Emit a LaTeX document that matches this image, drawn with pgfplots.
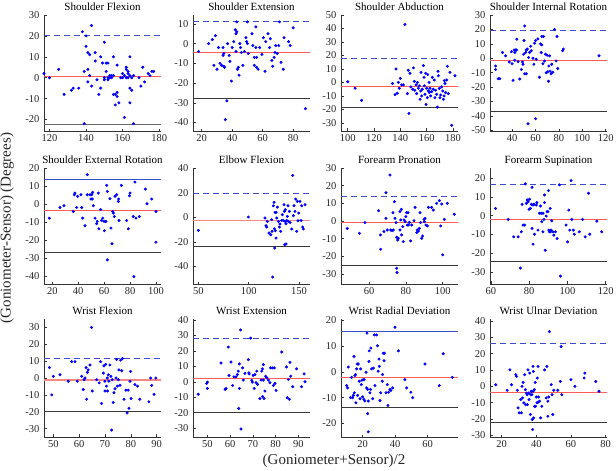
\documentclass[border=0pt]{standalone}
\usepackage{pgfplots}
\pgfplotsset{compat=1.18}
\usepackage{fontspec}
\setmainfont{Liberation Serif}
\definecolor{upc}{RGB}{60,75,200}
\definecolor{lowc}{RGB}{55,55,55}
\definecolor{meanc}{RGB}{255,90,90}
\definecolor{meanthick}{RGB}{245,135,135}
\pgfplotsset{
 ba/.style={scale only axis, width=117pt, height=116pt, anchor=north west,
  axis x line*=bottom, axis y line*=left, tick align=inside, major tick length=2.5pt,
  axis line style={black!80, line width=0.6pt}, tick style={black!80, line width=0.5pt},
  ticklabel style={font=\fontsize{10.5}{12}\selectfont, text=black!85},
  /pgf/number format/assume math mode=true,
  every axis title/.style={at={(0.5,1)}, anchor=base, yshift=5pt, font=\fontsize{11}{13}\selectfont},
  yticklabel style={xshift=-1pt}, clip=true},
 pts/.style={only marks, mark=*, mark size=1.3pt, color=blue, mark options={fill=blue, draw=blue}},
 upd/.style={upc, line width=0.7pt, dash pattern=on 6pt off 4pt},
 ups/.style={upc, line width=0.7pt},
 lowl/.style={lowc, line width=0.7pt},
 meanl/.style={meanc, line width=0.8pt},
}
\begin{document}
\begin{tikzpicture}
% Row 1
\begin{axis}[ba, at={(44pt,-15pt)}, title={Shoulder Flexion}, xmin=117, xmax=181, ymin=-25.5, ymax=30, xtick={120,140,160,180}, ytick={-20,-10,0,10,20,30}]
\addplot[meanl] coordinates {(117,0.5)(181,0.5)};
\addplot[upd] coordinates {(117,20.5)(181,20.5)};
\addplot[gray!80!black, line width=1.3pt] coordinates {(117,-22.5)(181,-22.5)};
\addplot[pts] coordinates {(117,2)(120,0)(125,4)(128,-8)(132,-6)(133,-5)(136,-5)(138,22)(139,3)(140,20)(140,15)(141,12)(141,4)(141,-2)(142,11)(142,1)(143,-4)(143,25)(145,8)(145,12)(146,-1)(147,-8)(148,10)(148,-5)(149,7)(150,-1)(150,17)(150,0)(151,3)(151,7)(152,0)(152,7)(152,-1)(153,1)(153,0)(154,1)(154,0)(155,1)(155,-8)(155,10)(156,-8)(157,-7)(157,-9)(156,-13)(157,6)(158,-12)(159,0)(160,2)(160,0)(161,1)(161,-19)(162,0)(162,4)(162,5)(163,3)(163,0)(163,2)(164,10)(164,1)(164,-5)(164,-12)(165,0)(165,-6)(166,-22)(166,1)(169,0)(170,-4)(171,5)(172,-2)(174,2)(175,1)(176,3)(177,3)(139,-22)};
\end{axis}
\begin{axis}[ba, at={(193pt,-15pt)}, title={Shoulder Extension}, xmin=14.3, xmax=91, ymin=-44.3, ymax=14.5, xtick={20,40,60,80}, ytick={-40,-30,-20,-10,0,10}]
\addplot[meanl] coordinates {(14.3,-4.6)(91,-4.6)};
\addplot[upd] coordinates {(14.3,11.4)(91,11.4)};
\addplot[lowl] coordinates {(14.3,-27.7)(91,-27.7)};
\addplot[pts] coordinates {(18,-4)(24.5,0)(27,2)(29,4)(28,-11)(30,-13)(31,-2)(32,-10)(33,-11)(34,-2)(34,-6)(34.5,-5)(34.5,-11.5)(35,-12)(35.5,-38.5)(36.5,-29)(37,0)(38,-6)(38.5,-9)(39.5,-19)(40,-2)(41,1)(42,7)(42.5,5)(42.5,-4)(43,6)(43,11)(43.5,-13)(44,-12)(44.5,-16)(45,0)(45.5,-2)(46,-4.5)(47,-11)(48,-4)(49,3)(49.5,1)(50,11)(50,0)(50.5,-5)(53,5)(53.5,-1)(54.5,-7)(54.5,-11)(55.5,8.5)(55.5,-2)(56,-7)(56,-12)(57,-13)(58,-2)(59.5,-5.5)(60.5,3)(61.5,-14)(62,1)(63.5,5)(64.5,-2)(65,2.5)(66,-8.5)(66.5,-11.5)(67.5,-7)(68,-4.5)(68.5,-1)(69.5,-5)(70.5,-1)(71,11)(72,-9.5)(73.5,-13)(74,3)(77,1)(78,-1)(80,8)(88,-33)};
\end{axis}
\begin{axis}[ba, at={(341pt,-15pt)}, title={Shoulder Abduction}, xmin=94.9, xmax=183.8, ymin=-36, ymax=50, xtick={100,120,140,160,180}, ytick={-30,-20,-10,0,10,20,30,40,50}]
\addplot[meanl] coordinates {(94.9,-2.75)(183.8,-2.75)};
\addplot[upd] coordinates {(94.9,17.5)(183.8,17.5)};
\addplot[lowl] coordinates {(94.9,-18.25)(183.8,-18.25)};
\addplot[pts] coordinates {(100,0.5)(105.6,-4.3)(110.6,-13.3)(134,-0.8)(136,-9)(136.7,10)(137.7,-8)(138.5,0)(139.2,-4.3)(140,3)(141,-1.8)(142.3,-1.8)(143.5,43)(145.3,-8.3)(146,9)(146.5,-23)(147.3,6.8)(148,-3.3)(149.4,-5)(150,10.8)(150.6,0.8)(151,-5.8)(152,-1.8)(152.4,-8.3)(153,0)(153.7,-4.3)(154.4,-2.5)(155,-12.5)(155.5,-6.3)(155.7,7.5)(156.2,-10)(156.7,-5)(157.5,12.5)(158,3.8)(158.2,-2.5)(158.7,-8.8)(159.2,6.8)(159.5,-16.3)(160,-4.3)(160.5,-11.3)(160.8,5.8)(161.3,-6.3)(161.8,0)(162,-7.5)(162.5,-4.3)(163,-10)(163.8,-6.8)(164.3,3.8)(165,-5)(165.8,1.8)(166.3,-11.3)(166.8,-5.8)(167.6,-8.8)(168.1,-18.3)(168.6,8.3)(168.9,5)(169.6,-4.5)(170.1,-11.3)(170.6,-9.3)(171.4,-3.3)(172.2,-6.3)(172.7,-12.5)(173.2,-10)(173.4,1.3)(173.9,-0.8)(174.4,-7.5)(175.2,1.8)(175.7,12)(176.5,-8.3)(177.7,7.5)(179,-31.8)(181.5,5)};
\end{axis}
\begin{axis}[ba, at={(490pt,-15pt)}, title={Shoulder Internal Rotation}, xmin=21.1, xmax=121.1, ymin=-50.5, ymax=30, xtick={40,60,80,100,120}, ytick={-50,-40,-30,-20,-10,0,10,20,30}]
\addplot[meanl] coordinates {(21.1,-1.4)(121.1,-1.4)};
\addplot[upd] coordinates {(21.1,19.3)(121.1,19.3)};
\addplot[lowl] coordinates {(21.1,-36.8)(121.1,-36.8)};
\addplot[pts] coordinates {(25.9,-5.4)(25.9,-7.8)(28.1,-14.2)(29.5,-14.2)(31.8,4)(34.4,1.7)(37.5,-2.6)(39.4,4.5)(40,-3.8)(40.8,-15.3)(41.7,5.7)(42.3,4)(42.3,-1.4)(43.1,5.7)(44,13.2)(43.7,5.7)(45.1,-2.4)(46.5,-14.4)(47.9,-7.8)(48.8,-2.6)(49.3,-4.2)(49.9,2.8)(50.2,12.3)(50.7,22.4)(50.7,-10.8)(51.6,4)(52.1,-10.8)(52.1,5.7)(53,6.4)(53.6,-45.5)(54.1,0.5)(54.9,4)(55.8,8.3)(56.4,5.2)(57.8,0)(58.6,-4.2)(59.2,10.4)(60.1,12.3)(60.1,-42)(60.6,-0.7)(62,13.4)(63.4,-13.2)(64.3,9.9)(64.9,4)(65.4,9.2)(65.4,15.1)(66.3,-3.8)(66.8,15.1)(67.7,-1.9)(68.5,2.8)(69.1,-10.1)(69.9,2.1)(70.5,-9.4)(71.1,-16)(71.4,-5.4)(72,1.7)(72.5,-9)(73.3,-10.8)(73.9,-4.2)(74.7,-9.7)(76.2,20)(77.6,-1.9)(78.4,15.1)(79,-7.1)(83.2,5.2)(83.8,6.4)(114.3,1.7)};
\end{axis}
% Row 2
\begin{axis}[ba, at={(44pt,-168pt)}, title={Shoulder External Rotation}, xmin=13.6, xmax=103.9, ymin=-44.3, ymax=20, xtick={20,40,60,80,100}, ytick={-40,-30,-20,-10,0,10,20}]
\addplot[meanl] coordinates {(13.6,-3.7)(103.9,-3.7)};
\addplot[ups] coordinates {(13.6,13.5)(103.9,13.5)};
\addplot[lowl] coordinates {(13.6,-26.9)(103.9,-26.9)};
\addplot[pts] coordinates {(17.7,-7.8)(25.9,-1.9)(29,-0.9)(36.2,-4.1)(37,5.2)(37.5,6.1)(38.8,-1.9)(39.6,4.3)(42.1,5.2)(42.7,-1.9)(43.4,-7.8)(45.2,-12)(47,16.3)(47,5.2)(49.1,5.2)(49.9,2.8)(50.4,5.2)(50.9,2.8)(51.1,6.5)(51.7,-0.9)(53,-7.8)(54.2,-10.9)(54.7,-9.6)(55.5,6.1)(56,-13.7)(57.3,-3.1)(58.1,-9.1)(58.9,-7.8)(59.9,-9.6)(60.2,-14.8)(60.7,-9.6)(61.4,-9.6)(62,10.4)(62.5,7)(62.5,-30.9)(64.5,3)(65.3,-13.3)(66.1,-22)(66.6,-4.1)(67.1,-5)(67.9,-6.9)(68.4,4.3)(69.7,5.2)(71,1.5)(71.2,2.8)(71.5,-9.1)(73.3,10.4)(77.4,-9.1)(78.7,-13.7)(79.5,4.6)(80,6.1)(82.5,-6.9)(83,-40.2)(83.8,12.2)(84.6,-7.8)(87.2,-6.9)(91.8,8.3)(93.1,0.2)(96.7,2.8)(100,-4.1)(100,-21.1)};
\end{axis}
\begin{axis}[ba, at={(193pt,-168pt)}, title={Elbow Flexion}, xmin=44.7, xmax=160.9, ymin=-54.5, ymax=40.4, xtick={50,100,150}, ytick={-40,-20,0,20,40}]
\addplot[meanthick, line width=1.8pt] coordinates {(44.7,-2.5)(160.9,-2.5)};
\addplot[upd] coordinates {(44.7,19.4)(160.9,19.4)};
\addplot[lowl] coordinates {(44.7,-23.7)(160.9,-23.7)};
\addplot[pts] coordinates {(50,-10.6)(99.7,0.3)(116.2,-0.5)(117.2,-6.8)(117.9,-7.9)(118.5,-3.3)(120.2,-12.8)(121.9,-14.2)(122.8,-1.9)(123.2,-11.4)(123.8,-48.8)(124.5,9.5)(125.2,12.3)(125.5,-9.3)(125.8,-25.1)(126.2,4.1)(126.5,-10.9)(127.2,-16.9)(127.2,4.1)(127.8,-0.5)(128.5,8.4)(129.5,-3.3)(130.5,-7.9)(131.1,-5.4)(131.8,-11.4)(132.8,-2.5)(133.4,2.2)(134.4,-2.5)(135.1,10.4)(135.4,4.9)(135.8,-22.3)(136.1,-3.3)(136.4,6.3)(137.1,-5.2)(137.1,-21.8)(137.7,-2.5)(138.4,0.8)(139,9.5)(139.4,-3.3)(140.4,4.9)(141.1,-4.1)(142.7,-9.5)(143.7,34.3)(144.4,1.4)(145,9.5)(146,4.9)(146.7,15)(147.7,-11.4)(148.3,13.1)(149,-2.7)(149.7,3.5)(151,13.1)(152,-2.5)(152.6,9.5)(153.6,-7.9)(154.3,-9.5)(156,10.4)};
\end{axis}
\begin{axis}[ba, at={(341pt,-168pt)}, title={Forearm Pronation}, xmin=44.8, xmax=108.3, ymin=-35.7, ymax=30, xtick={60,80,100}, ytick={-30,-20,-10,0,10,20,30}]
\addplot[meanc, line width=1.1pt] coordinates {(44.8,-1.1)(108.3,-1.1)};
\addplot[upd] coordinates {(44.8,14.2)(108.3,14.2)};
\addplot[lowl] coordinates {(44.8,-24.9)(108.3,-24.9)};
\addplot[pts] coordinates {(48.2,-4.3)(54.8,-7)(57.8,-0.9)(65.2,5.8)(66.2,-7.9)(66.3,-16)(68.1,-6)(69.2,16)(69.2,1.5)(69.9,-5.1)(71.4,26)(71.8,-5.1)(72.5,-5.5)(73,4.7)(73.2,-5.1)(73.8,10.9)(74.1,1.5)(74.7,-0.9)(75,-9.2)(75,-26.8)(75.2,-29.2)(75.6,-10.8)(75.9,-9.8)(76.8,-5.1)(76.8,5.3)(77.2,0.6)(77.6,6.6)(77.7,-7.9)(78.3,-3.2)(78.6,-11.7)(79,0.6)(79.6,-0.4)(80,2.5)(80.4,4.7)(80.8,-2.3)(81.2,4.7)(81.5,-2.3)(81.9,-0.8)(82.6,-11.3)(83.2,-2.3)(84.4,0.2)(85,7.7)(85.9,-6.6)(86.2,-5.1)(86.8,-5.7)(87.3,-4.2)(87.7,4.7)(88,-0.9)(88.6,-9.8)(89.1,-8.5)(89.9,0.9)(90,-0.4)(90.4,1.5)(90.9,-2.3)(91.7,-2.8)(92.2,7.7)(94,7.7)(94.9,6.2)(96.7,10)(98.2,11.5)(98.9,-2.8)(99.5,9.6)(100,-19.2)(100.9,0.9)(102.5,10)(106.3,3.8)};
\end{axis}
\begin{axis}[ba, at={(490pt,-168pt)}, title={Forearm Supination}, xmin=59.5, xmax=120.7, ymin=-36.5, ymax=25.5, xtick={60,80,100,120}, ytick={-30,-20,-10,0,10,20}]
\addplot[meanl] coordinates {(59.5,-2)(120.7,-2)};
\addplot[upd] coordinates {(59.5,16.8)(120.7,16.8)};
\addplot[lowl] coordinates {(59.5,-24.2)(120.7,-24.2)};
\addplot[pts] coordinates {(62.4,3.9)(69,-2)(71.9,-11.3)(74.2,-11.3)(75.4,-28)(75.9,-8.6)(76.3,6.1)(76.8,-5)(77.6,-5)(78,17)(78.5,6.6)(79,8.4)(79.4,7.5)(79.9,3.4)(80.2,8.8)(80.6,3.9)(81.1,6.1)(81.5,-6.8)(81.5,15.2)(82,-15.2)(82,5.7)(82.5,6.1)(82.8,-9.9)(83.7,5.7)(84,7)(84.6,-7.7)(85.4,1.3)(85.9,5.2)(86.3,1.3)(86.6,-3.2)(87.2,-8.6)(87.2,1.3)(87.7,-2)(88,11.1)(88,7)(88.4,-18.5)(88.9,-0.2)(89.4,2.2)(89.8,2.2)(90.1,13.4)(90.3,-7.7)(90.6,-8.6)(91,3.9)(91.1,-8.6)(91.5,-7.7)(91.8,-2.7)(92.4,-8.6)(92.9,-10.4)(93.7,-8.6)(94.6,-12.2)(95.8,16.5)(96.3,-32.3)(99.3,-5)(100.1,-14)(100.7,3)(101.2,-7.7)(101.9,18.8)(102.3,-2)(103.1,-7.7)(103.6,-9.9)(106.2,-8.6)(107.9,-2)(109.3,-11.3)(111,12)(111.7,-9.9)(115.4,-2.9)(117.9,-8.6)};
\end{axis}
% Row 3
\begin{axis}[ba, at={(44pt,-319pt)}, height=118pt, title={Wrist Flexion}, xmin=46.4, xmax=91.7, ymin=-35, ymax=35, xtick={50,60,70,80,90}, ytick={-30,-20,-10,0,10,20,30}]
\addplot[meanthick, line width=1.8pt] coordinates {(46.4,-1.2)(91.7,-1.2)};
\addplot[upd] coordinates {(46.4,11.6)(91.7,11.6)};
\addplot[lowl] coordinates {(46.4,-19.7)(91.7,-19.7)};
\addplot[pts] coordinates {(48.5,6.2)(49.4,-10)(50,1)(52.6,1.9)(55.8,-1.9)(57.1,9.7)(58.4,9.7)(59.3,-1.9)(61,1)(61.6,-6.8)(61.9,-1)(62.3,0)(62.7,6.2)(62.9,-12.6)(63.2,3.3)(63.5,4.8)(64.2,7.7)(64.8,30)(65.1,-7.7)(66.8,-1)(67.8,-2.9)(68.3,9.7)(68.7,-15.1)(69.4,2.9)(69.6,7.2)(70,-7.7)(70,-1.9)(70.3,8.1)(70.6,-4.8)(70.9,0)(71,-7.7)(71.3,1.9)(71.5,-1.9)(71.9,7.7)(72.3,1)(72.6,-30.9)(72.8,-1)(73.2,-14.5)(73.5,-8.7)(73.9,-6.4)(74.3,0)(74.5,11)(74.8,-4.8)(75.2,-1)(75.4,4.8)(75.8,-4.3)(76.1,10.6)(76.5,4.3)(76.8,11.6)(77.4,-12.6)(78.1,-7.2)(78.6,-20.7)(79,-7.2)(79.3,-18)(79.7,-1.9)(79.9,3.9)(80.1,-12.2)(81.6,-3.9)(82.6,-4.8)(83.5,-12.6)(87,-14.1)(87.7,0)(88.1,-4.4)(89,-9.7)(89.7,0)};
\end{axis}
\begin{axis}[ba, at={(193pt,-319pt)}, height=118pt, title={Wrist Extension}, xmin=43.7, xmax=95.1, ymin=-35.8, ymax=40.7, xtick={50,60,70,80,90}, ytick={-30,-20,-10,0,10,20,30,40}]
\addplot[meanl] coordinates {(43.7,2.1)(95.1,2.1)};
\addplot[upd] coordinates {(43.7,28.3)(95.1,28.3)};
\addplot[lowl] coordinates {(43.7,-19.5)(95.1,-19.5)};
\addplot[pts] coordinates {(46,-8.1)(49.7,-1.1)(50,-0.2)(50,-4.3)(56,12.2)(57.8,-4.9)(58.2,-4.3)(59.2,22.5)(59.5,4.1)(60.4,12.8)(61.1,-2.4)(61.7,3.2)(62.6,3.2)(63.2,4.7)(63.6,6.9)(63.8,-17.3)(64.1,-4.3)(64.1,11.6)(64.6,33.6)(64.8,-30.6)(65.5,9)(65.8,1.1)(66.5,5.4)(68,14.3)(68.2,5.8)(68.4,5.1)(69,28.3)(69.5,0.9)(69.8,-0.2)(70.1,4.1)(70.6,-4.3)(70.9,4.7)(71.4,-0.6)(71.7,6.9)(72.1,-1.7)(73.1,-10.9)(73.6,1.1)(73.9,6.9)(74.2,8.4)(74.3,-9.6)(74.6,1.1)(74.6,11.1)(74.9,-10.9)(75.3,-6)(75.6,3.6)(76.1,2.6)(76.8,1.1)(77.5,-0.6)(77.8,9)(78.7,9)(79,-2.4)(79.4,9)(79.7,-1.1)(80.2,-5.6)(82.7,19.3)(84.8,9.6)(85.1,-10.3)(85.6,1.5)(86,-11.3)(86.3,12.6)(86.6,3.6)(87.5,-3.2)(89.2,8.4)(91.4,-3.2)(92.5,5.1)(92.9,0)};
\end{axis}
\begin{axis}[ba, at={(341pt,-319pt)}, height=118pt, title={Wrist Radial Deviation}, xmin=6.7, xmax=78.7, ymin=-25.3, ymax=20.6, xtick={20,40,60,80}, ytick={-20,-10,0,10,20}]
\addplot[meanl] coordinates {(6.7,-2.3)(78.7,-2.3)};
\addplot[ups] coordinates {(6.7,15.7)(78.7,15.7)};
\addplot[lowl] coordinates {(6.7,-13.6)(78.7,-13.6)};
\addplot[pts] coordinates {(10.2,-5.3)(10.8,-6.2)(11.2,1.9)(12.6,-10)(13.2,-2.1)(13.8,-10)(14.3,-9.1)(14.7,6)(14.9,-8.1)(15.3,-1.4)(15.7,-1)(15.9,-12)(16.3,1.2)(16.7,3.1)(16.9,-9.1)(17.3,3.1)(17.9,-3.6)(18.4,-10.4)(18.8,1.2)(19.2,-4.9)(19.6,-3.2)(20,-9.7)(20.4,-3)(20.8,-10.7)(21,-3)(21.4,-11.3)(22.1,-0.1)(22.5,-6.2)(22.7,15.1)(23.1,-6.8)(23.1,-16.2)(23.5,-23.3)(23.5,-11.3)(23.9,4.1)(24.1,8.2)(24.5,-8.1)(24.9,-6.8)(25.1,9.3)(25.5,1.2)(26.2,-10.4)(26.6,1.5)(27.2,14.4)(27.6,-5.3)(28.6,14.4)(29.2,10.2)(29.6,0.3)(30.1,5)(30.3,2.2)(30.7,-11.1)(31.1,-8.1)(32.1,-3.6)(32.3,-1)(32.7,7.3)(33.2,4.4)(33.4,7.3)(34.4,-8.1)(35.2,-4.9)(35.6,-13)(36,-7.9)(36.8,-6.8)(37.4,-7.2)(38.5,-6.2)(39.9,17.4)(42,8.2)(46,-3)(47.1,-6.2)(49.7,-7.9)(50.8,-10)(58.4,3.1)(67.2,-5.3)(69.6,7.1)(75.2,-2.1)};
\end{axis}
\begin{axis}[ba, at={(490pt,-319pt)}, height=118pt, title={Wrist Ulnar Deviation}, xmin=13.3, xmax=80.8, ymin=-31, ymax=41.2, xtick={20,40,60,80}, ytick={-30,-20,-10,0,10,20,30,40}]
\addplot[meanl] coordinates {(13.3,-3.9)(80.8,-3.9)};
\addplot[upd] coordinates {(13.3,26)(80.8,26)};
\addplot[lowl] coordinates {(13.3,-22.3)(80.8,-22.3)};
\addplot[pts] coordinates {(16.6,1)(23.2,-2.4)(24.8,10.1)(25.7,1)(28.2,7.1)(28.6,6.1)(29.1,-2.4)(29.5,-13.2)(30.1,-16.2)(31,-8.1)(31.4,-16.2)(31.8,0)(32,-7.1)(32.4,2.4)(32.8,-10.1)(33.3,7.1)(33.7,-2)(33.9,-11.2)(34.3,-4.1)(34.7,-5.1)(34.9,-11.2)(35.2,10.1)(35.6,-4.1)(35.8,-8.1)(36.2,8.1)(36.6,-17.2)(36.8,-5.1)(37.1,-3)(37.5,-5.1)(37.7,-20.3)(37.9,-26.4)(38.1,12.2)(38.1,-3)(38.3,9.1)(38.5,-19.3)(38.9,-2)(39,-12.2)(39.4,2.4)(39.6,-12.2)(40,-6.5)(40.4,-10.1)(40.6,5.1)(41,12.2)(41,-9.7)(41.3,-6.5)(41.9,-9.1)(42.5,-19.3)(43.2,-12.2)(44.8,10.1)(45.7,-7.1)(46.1,12.2)(46.7,-18.3)(46.7,-9.1)(47.2,-6.5)(47.6,33.5)(48.6,1)(49.1,-5.1)(49.5,-17.2)(50.1,-2.4)(52.4,-2.4)(53.9,3)(54.3,24.3)(54.7,-5.1)(60,4.1)(62.3,0)(67.6,5.1)(68,8.1)(74.3,3)(76.2,-3)};
\end{axis}
\node[rotate=90, font=\fontsize{15}{17}\selectfont, text=black!85] at (7pt,-228pt) {(Goniometer-Sensor) (Degrees)};
\node[font=\fontsize{15}{17}\selectfont, text=black!85] at (334pt,-461pt) {(Goniometer+Sensor)/2};
\pgfresetboundingbox
\useasboundingbox (0pt,0pt) rectangle (616pt,-471pt);
\end{tikzpicture}
\end{document}
